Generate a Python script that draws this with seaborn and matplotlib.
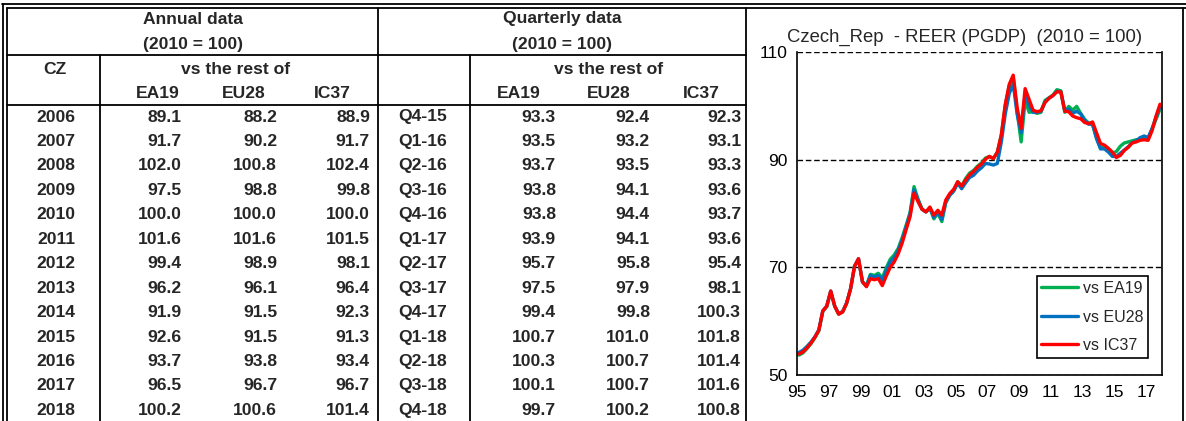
import numpy as np
import pandas as pd
import seaborn as sns
import matplotlib.pyplot as plt
from matplotlib.lines import Line2D

W, H = 1186, 421

# ---------------- table data ----------------
years = ['2006', '2007', '2008', '2009', '2010', '2011', '2012',
         '2013', '2014', '2015', '2016', '2017', '2018']
ann_ea19 = [89.1, 91.7, 102.0, 97.5, 100.0, 101.6, 99.4, 96.2, 91.9, 92.6, 93.7, 96.5, 100.2]
ann_eu28 = [88.2, 90.2, 100.8, 98.8, 100.0, 101.6, 98.9, 96.1, 91.5, 91.5, 93.8, 96.7, 100.6]
ann_ic37 = [88.9, 91.7, 102.4, 99.8, 100.0, 101.5, 98.1, 96.4, 92.3, 91.3, 93.4, 96.7, 101.4]

qtr_labels = ['Q4-15', 'Q1-16', 'Q2-16', 'Q3-16', 'Q4-16', 'Q1-17', 'Q2-17',
              'Q3-17', 'Q4-17', 'Q1-18', 'Q2-18', 'Q3-18', 'Q4-18']
qtr_ea19 = [93.3, 93.5, 93.7, 93.8, 93.8, 93.9, 95.7, 97.5, 99.4, 100.7, 100.3, 100.1, 99.7]
qtr_eu28 = [92.4, 93.2, 93.5, 94.1, 94.4, 94.1, 95.8, 97.9, 99.8, 101.0, 100.7, 100.7, 100.2]
qtr_ic37 = [92.3, 93.1, 93.3, 93.6, 93.7, 93.6, 95.4, 98.1, 100.3, 101.8, 101.4, 101.6, 100.8]

# ---------------- chart data (quarterly, 1995Q1 - 2017Q4) ----------------
chart_ea19 = [53.7, 54.1, 54.9, 55.8,  56.9, 58.2, 61.8, 62.7,  65.5, 62.8, 61.3, 61.7,
              63.3, 66.0, 70.2, 71.5,  67.3, 66.6, 68.7, 68.5,  68.9, 68.0, 69.9, 71.5,
              72.3, 73.5, 75.5, 77.8,  80.2, 85.0, 82.7, 80.8,  80.3, 81.0, 79.0, 80.1,
              78.5, 82.0, 83.4, 84.2,  85.9, 85.1, 86.5, 87.5,  88.0, 88.8, 89.4, 90.3,
              90.6, 90.2, 91.4, 94.6,  100.1, 103.7, 105.3, 98.9,  93.3, 101.0, 98.8, 98.9,
              98.6, 98.8, 101.0, 101.5,  102.0, 103.0, 102.8, 98.8,  99.9, 99.2, 99.9, 98.6,
              97.5, 96.8, 96.5, 94.0,  92.2, 92.4, 91.8, 91.2,  91.5, 92.5, 93.1, 93.3,
              93.5, 93.7, 93.8, 93.8,  93.9, 95.7, 97.5, 99.4]
chart_eu28 = [54.2, 54.6, 55.3, 56.1,  57.1, 58.4, 61.9, 62.8,  65.6, 62.8, 61.4, 61.8,
              63.4, 66.0, 70.2, 71.6,  67.3, 66.5, 68.5, 68.2,  68.5, 67.6, 69.4, 71.0,
              71.8, 73.1, 75.1, 77.5,  79.9, 84.4, 82.5, 80.8,  80.3, 81.0, 79.3, 80.3,
              78.9, 82.2, 83.4, 84.2,  85.6, 84.6, 85.7, 86.7,  87.1, 87.9, 88.5, 89.3,
              89.2, 89.0, 89.3, 93.3,  98.5, 102.3, 104.0, 98.4,  95.0, 102.2, 100.0, 98.8,
              98.8, 99.0, 100.7, 101.4,  101.9, 102.7, 102.6, 99.1,  99.4, 98.6, 99.0, 98.5,
              97.3, 96.6, 96.6, 93.9,  92.0, 92.0, 91.4, 90.6,  90.6, 91.2, 91.8, 92.4,
              93.2, 93.5, 94.1, 94.4,  94.1, 95.8, 97.9, 99.8]
chart_ic37 = [53.9, 54.3, 55.0, 55.9,  57.0, 58.3, 61.9, 62.8,  65.6, 62.8, 61.3, 61.7,
              63.3, 66.0, 70.2, 71.6,  67.3, 66.4, 67.9, 67.7,  67.9, 66.6, 68.4, 70.0,
              71.0, 72.5, 74.5, 77.0,  79.4, 83.8, 82.2, 80.8,  80.3, 81.2, 79.7, 80.6,
              79.7, 82.5, 83.7, 84.5,  85.9, 85.1, 86.2, 87.2,  87.8, 88.6, 89.2, 90.1,
              90.6, 90.2, 91.4, 94.6,  100.3, 104.0, 105.7, 99.6,  95.8, 103.2, 101.2, 99.2,
              98.9, 99.1, 100.6, 101.4,  101.9, 102.6, 102.6, 99.0,  98.9, 98.1, 97.8, 97.6,
              96.9, 96.7, 97.0, 95.0,  93.0, 92.7, 92.1, 91.4,  90.4, 90.8, 91.7, 92.3,
              93.1, 93.3, 93.6, 93.7,  93.6, 95.4, 98.1, 100.3]

sns.set_style('white')
plt.rcParams['font.family'] = ['Liberation Sans', 'DejaVu Sans']

fig = plt.figure(figsize=(W / 100, H / 100), dpi=100)


def fx(x):
    return x / W


def fy(y):
    return 1 - y / H


def line(xs, ys, lw=1.3):
    fig.add_artist(Line2D([fx(v) for v in xs], [fy(v) for v in ys],
                          transform=fig.transFigure, color='black', lw=lw))


def txt(x, y, s, ha='center', size=12.6, weight='bold'):
    fig.text(fx(x), fy(y), s, ha=ha, va='center', fontsize=size, fontweight=weight)


# outer frame (double lines top / left)
line([2, 1186], [3.5, 3.5])
line([6.5, 1186], [7.5, 7.5])
line([2.5, 2.5], [3.5, 421])
line([6.5, 6.5], [7.5, 421])
line([1183, 1183], [7.5, 421])

# table grid
line([6.5, 746], [55, 55])
line([6.5, 746], [105, 105])
line([100, 100], [55, 421])
line([378, 378], [7.5, 421])
line([470, 470], [55, 421])
line([746, 746], [7.5, 421])

# headers
txt(193, 19, 'Annual data')
txt(193, 44, '(2010 = 100)')
txt(55, 69, 'CZ')
txt(236, 69, 'vs the rest of')
txt(158, 94, 'EA19')
txt(244, 94, 'EU28')
txt(332, 94, 'IC37')

txt(562, 19, 'Quarterly data')
txt(562, 44, '(2010 = 100)')
txt(609, 69, 'vs the rest of')
txt(519, 94, 'EA19')
txt(609, 94, 'EU28')
txt(701, 94, 'IC37')

row_y = 117
for i in range(len(years)):
    y = row_y + i * 24.45
    txt(56, y, years[i])
    txt(182, y, f'{ann_ea19[i]:.1f}', ha='right')
    txt(277, y, f'{ann_eu28[i]:.1f}', ha='right')
    txt(370, y, f'{ann_ic37[i]:.1f}', ha='right')
    txt(423, y, qtr_labels[i])
    txt(556, y, f'{qtr_ea19[i]:.1f}', ha='right')
    txt(650, y, f'{qtr_eu28[i]:.1f}', ha='right')
    txt(741, y, f'{qtr_ic37[i]:.1f}', ha='right')

# ---------------- chart ----------------
ax = fig.add_axes([fx(797), fy(375), (1162 - 797) / W, (375 - 52) / H])

quarters = pd.period_range('1995Q1', '2017Q4', freq='Q')
t = quarters.year + (quarters.quarter - 0.5) / 4
df = pd.DataFrame({'t': t, 'vs EA19': chart_ea19, 'vs EU28': chart_eu28, 'vs IC37': chart_ic37})
df = df.melt('t', var_name='series', value_name='value')

palette = {'vs EA19': '#00B050', 'vs EU28': '#0070C0', 'vs IC37': '#FF0000'}
sns.lineplot(data=df, x='t', y='value', hue='series', palette=palette,
             linewidth=2.4, ax=ax)

ax.set_xlim(1995, 2018)
ax.set_ylim(50, 110)
ax.set_yticks([50, 70, 90, 110])
xt = list(range(1995, 2019))
ax.set_xticks(xt)
ax.set_xticklabels([f'{y % 100:02d}' if y % 2 == 1 and y < 2018 else '' for y in xt])
ax.tick_params(direction='out', length=4, width=1, colors='black', labelsize=12.5, pad=3)
ax.yaxis.grid(True, color='black', linestyle=(0, (4, 2)), linewidth=1)
ax.xaxis.grid(False)
ax.set_xlabel('')
ax.set_ylabel('')
ax.spines['top'].set_visible(False)
for s in ['left', 'bottom', 'right']:
    ax.spines[s].set_color('black')
    ax.spines[s].set_linewidth(1.2)

leg = ax.legend(title=None, loc='lower right', bbox_to_anchor=(0.962, 0.053),
                borderaxespad=0, frameon=True, fancybox=False, edgecolor='black',
                framealpha=1, fontsize=11.5, handlelength=2.3, labelspacing=0.85,
                borderpad=0.3, handletextpad=0.3)
leg.get_frame().set_linewidth(1.2)

fig.text(fx(965), fy(37), 'Czech_Rep  - REER (PGDP)  (2010 = 100)',
         ha='center', va='center', fontsize=13.3)

fig.savefig('out.png', dpi=100)
